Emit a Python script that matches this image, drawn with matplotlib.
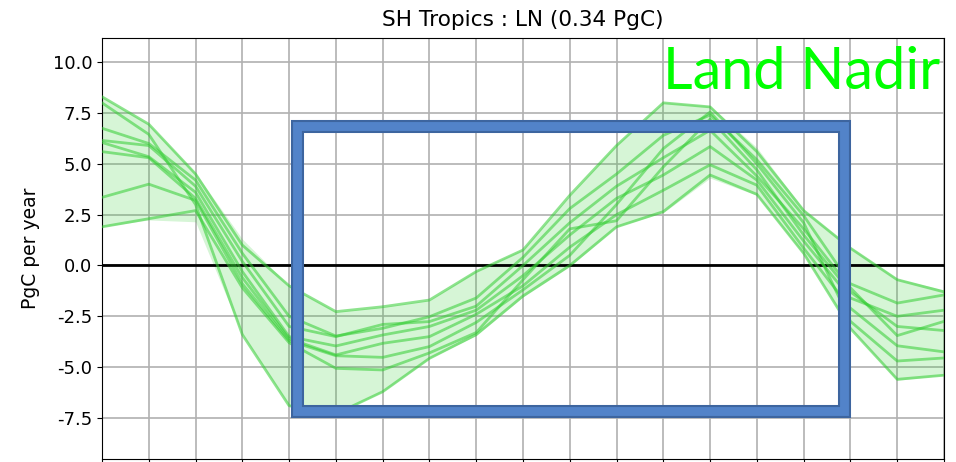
import numpy as np
import matplotlib
matplotlib.use('Agg')
import matplotlib.pyplot as plt
from matplotlib.patches import Rectangle

# monthly flux anomalies (PgC per year), one list per ensemble member
months = np.arange(19)
ens1 = [8.3, 6.95, 4.5, 1.0, -1.0, -2.27, -2.03, -1.70, -0.3, 0.76, 3.45, 5.9, 8.0, 7.8, 5.6, 2.7, 0.85, -0.7, -1.3]
ens2 = [8.0, 6.45, 3.0, -3.4, -6.9, -7.3, -6.21, -4.57, -3.4, -1.5, 0.0, 1.9, 2.65, 4.45, 3.5, 0.6, -3.1, -5.6, -5.4]
ens3 = [6.75, 6.0, 4.2, 0.6, -2.5, -3.47, -3.09, -2.52, -1.6, 0.4, 2.8, 4.5, 6.4, 7.4, 5.2, 2.45, -0.9, -1.85, -1.45]
ens4 = [6.15, 5.9, 3.9, 0.2, -3.0, -3.5, -2.9, -2.76, -2.0, 0.0, 2.1, 3.9, 5.3, 6.65, 4.4, 1.8, -1.1, -3.45, -2.75]
ens5 = [6.05, 5.35, 3.6, -0.3, -3.5, -3.96, -3.42, -3.0, -2.2, -0.5, 1.5, 3.3, 4.45, 5.85, 4.2, 1.2, -1.6, -2.5, -2.2]
ens6 = [5.6, 5.3, 3.3, -0.6, -3.6, -4.40, -3.83, -3.50, -2.4, -1.0, 0.9, 2.5, 3.7, 4.95, 3.95, 0.85, -2.1, -3.95, -4.25]
ens7 = [3.35, 4.0, 3.2, -0.9, -3.7, -4.44, -4.52, -3.99, -2.8, -1.2, 0.5, 3.0, 5.75, 7.55, 5.0, 2.1, -2.75, -4.7, -4.55]
ens8 = [1.9, 2.3, 2.7, -1.1, -3.8, -5.06, -5.14, -4.3, -3.3, -0.7, 1.8, 2.2, 4.85, 7.2, 4.7, 1.5, -1.3, -3.0, -3.2]
members = [ens1, ens2, ens3, ens4, ens5, ens6, ens7, ens8]

# spread envelope
env_hi = [8.3, 6.95, 4.55, 1.3, -1.0, -2.27, -2.03, -1.70, -0.25, 0.8, 3.45, 5.95, 8.03, 7.85, 5.8, 2.75, 0.9, -0.65, -1.2]
env_lo = [1.9, 2.24, 2.15, -3.4, -6.9, -7.3, -6.21, -4.57, -3.45, -1.55, -0.05, 1.9, 2.6, 4.3, 3.45, 0.55, -3.1, -5.65, -5.4]

# highlighted window (months, PgC per year)
box_x = [4.158, 15.872]
box_y = [-7.18, 6.837]

yticks = [-7.5, -5.0, -2.5, 0.0, 2.5, 5.0, 7.5, 10.0]

fig = plt.figure(figsize=(9.56, 4.62), dpi=100)
ax = fig.add_axes([102/956, 1 - 459/462, 842/956, 421/462])

ax.fill_between(months, env_lo, env_hi, color='limegreen', alpha=0.2, lw=0, zorder=2)
for m in members:
    ax.plot(months, m, color='limegreen', alpha=0.55, lw=2, zorder=3)

ax.axhline(0, color='black', lw=2, zorder=2.5)

ax.set_xlim(0, 18)
ax.set_ylim(-9.52, 11.19)
ax.set_xticks(months)
ax.set_xticklabels([])
ax.set_yticks(yticks)
ax.set_yticklabels(['{:.1f}'.format(v) for v in yticks], fontsize=13)
ax.grid(True, color='#b0b0b0', lw=1.2, zorder=1)
ax.set_axisbelow(True)
ax.set_ylabel('PgC per year', fontsize=13.5, labelpad=9)
ax.set_title('SH Tropics : LN (0.34 PgC)', fontsize=15.6, pad=9)

# box with darker outline
w = box_x[1] - box_x[0]
h = box_y[1] - box_y[0]
ax.add_patch(Rectangle((box_x[0], box_y[0]), w, h, fill=False, ec='#3d659f', lw=9.4,
                       joinstyle='miter', zorder=5, clip_on=False))
ax.add_patch(Rectangle((box_x[0], box_y[0]), w, h, fill=False, ec='#5283c9', lw=6.4,
                       joinstyle='miter', zorder=6, clip_on=False))

ax.text(0.9952, 0.879, 'Land Nadir', transform=ax.transAxes, ha='right', va='baseline',
        color='#00ff00', fontsize=41.5, family='Lato', zorder=7)

plt.savefig('out.png', dpi=100)
